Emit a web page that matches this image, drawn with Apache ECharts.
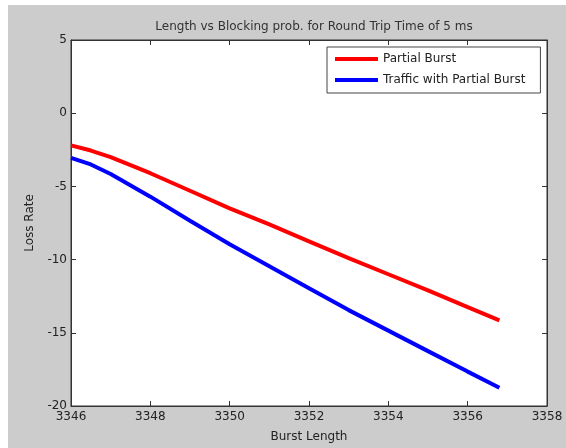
<!DOCTYPE html>
<html>
<head>
<meta charset="utf-8">
<script src="https://cdn.jsdelivr.net/npm/echarts@6/dist/echarts.min.js"></script>
<style>
  html, body { margin: 0; padding: 0; background: #fff; }
  #chart { position: absolute; left: 8px; top: 5px; width: 558px; height: 443px; }
</style>
</head>
<body>
<div id="chart"></div>
<script>
// data
var burstLength   = [3346, 3346.5, 3347, 3348, 3349, 3350, 3351, 3352, 3353, 3354, 3355, 3356, 3356.8];
var partialBurst  = [-2.2, -2.55, -3.0, -4.1, -5.3, -6.5, -7.6, -8.75, -9.9, -11.0, -12.1, -13.25, -14.15];
var trafficBurst  = [-3.05, -3.5, -4.15, -5.7, -7.35, -8.95, -10.45, -11.95, -13.45, -14.85, -16.25, -17.65, -18.75];
var seriesNames   = ['Partial Burst', 'Traffic with Partial Burst'];
var seriesColors  = ['#ff0000', '#0000ff'];

function pairs(xs, ys) {
    return xs.map(function (x, i) { return [x, ys[i]]; });
}

var font = 'DejaVu Sans';
var axisLine = { show: true, onZero: false, lineStyle: { color: '#333', width: 1 } };
var tickIn = { show: true, inside: true, length: 5, lineStyle: { color: '#333' } };
var tickLabel = { color: '#222', fontFamily: font, fontSize: 12, formatter: function (v) { return String(v); } };

var chart = echarts.init(document.getElementById('chart'));
chart.setOption({
    backgroundColor: '#cccccc',
    animation: false,
    title: {
        text: 'Length vs Blocking prob. for Round Trip Time of 5 ms',
        left: 301, top: 11, textAlign: 'center',
        textStyle: { color: '#333', fontFamily: font, fontSize: 12, fontWeight: 'normal' }
    },
    legend: {
        left: 319, top: 42,
        orient: 'vertical',
        backgroundColor: '#fff',
        borderColor: '#444', borderWidth: 1,
        padding: [6, 15, 7, 8],
        itemGap: 9,
        itemWidth: 43, itemHeight: 4,
        icon: 'rect',
        textStyle: { color: '#222', fontFamily: font, fontSize: 12 },
        data: seriesNames
    },
    grid: {
        left: 63, top: 35, width: 476, height: 367,
        show: true, backgroundColor: '#fff', borderColor: '#333', borderWidth: 1
    },
    xAxis: [{
        type: 'value', min: 3346, max: 3358, interval: 2,
        name: 'Burst Length', nameLocation: 'middle', nameGap: 25,
        nameTextStyle: { color: '#222', fontFamily: font, fontSize: 12 },
        axisLine: axisLine, axisTick: tickIn,
        axisLabel: Object.assign({ margin: 5 }, tickLabel),
        splitLine: { show: false }
    }, {
        type: 'value', min: 3346, max: 3358, interval: 2, position: 'top',
        axisLine: axisLine, axisTick: tickIn, axisLabel: { show: false },
        splitLine: { show: false }
    }],
    yAxis: [{
        type: 'value', min: -20, max: 5, interval: 5,
        name: 'Loss Rate', nameLocation: 'middle', nameGap: 35,
        nameTextStyle: { color: '#222', fontFamily: font, fontSize: 12 },
        axisLine: axisLine, axisTick: tickIn,
        axisLabel: Object.assign({ margin: 4 }, tickLabel),
        splitLine: { show: false }
    }, {
        type: 'value', min: -20, max: 5, interval: 5, position: 'right',
        axisLine: axisLine, axisTick: tickIn, axisLabel: { show: false },
        splitLine: { show: false }
    }],
    series: [{
        name: seriesNames[0], type: 'line', showSymbol: false,
        data: pairs(burstLength, partialBurst),
        itemStyle: { color: seriesColors[0] },
        lineStyle: { color: seriesColors[0], width: 4 }
    }, {
        name: seriesNames[1], type: 'line', showSymbol: false,
        data: pairs(burstLength, trafficBurst),
        itemStyle: { color: seriesColors[1] },
        lineStyle: { color: seriesColors[1], width: 4 }
    }]
});
</script>
</body>
</html>
